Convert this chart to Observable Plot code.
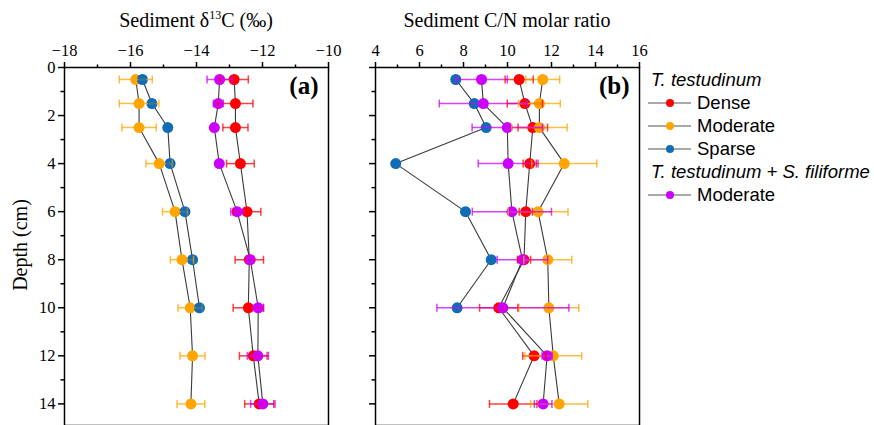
<!DOCTYPE html>
<html><head><meta charset="utf-8">
<script src="https://cdn.jsdelivr.net/npm/d3@7"></script>
<script src="https://cdn.jsdelivr.net/npm/@observablehq/plot@0.6"></script>
<style>
body{margin:0;background:#fff;}
#wrap{position:relative;width:874px;height:425px;overflow:hidden;font-family:"Liberation Serif","Times New Roman",serif;color:#000;}
.panel{position:absolute;top:0;}
.title{position:absolute;font-size:20px;transform:translateX(-50%);white-space:nowrap;top:8px;line-height:24px;}
.title sup{font-size:12px;vertical-align:8px;line-height:0;}
#ylab{position:absolute;left:20px;top:245px;font-size:20px;white-space:nowrap;transform:translate(-50%,-50%) rotate(-90deg);}
#legend{position:absolute;left:648px;top:68px;font-family:"Liberation Sans",Arial,sans-serif;font-size:18.5px;line-height:23px;}
#legend .row{display:flex;align-items:center;height:23px;white-space:nowrap;}
#legend .hdr{font-style:italic;margin-left:3px;}
#legend svg{margin-right:3px;}
</style></head>
<body>
<div id="wrap">
  <div class="title" style="left:196px">Sediment δ<sup>13</sup>C (‰)</div>
  <div class="title" style="left:507px">Sediment C/N molar ratio</div>
  <div id="ylab">Depth (cm)</div>
  <div id="legend"></div>
</div>
<script>
// ---- data ----
const depths = [0.5, 1.5, 2.5, 4, 6, 8, 10, 12, 14];
const seriesKeys = ["Dense", "Moderate", "Sparse", "Moderate (mixed)"];
const seriesColors = ["#FF0000", "#FFA500", "#106DB5", "#CC00FF"];

// Sediment d13C (per mil)
const denseD13C    = [-12.86, -12.82, -12.82, -12.67, -12.47, -12.40, -12.43, -12.28, -12.10];
const denseD13CErr = [0.43, 0.53, 0.38, 0.42, 0.42, 0.43, 0.46, 0.42, 0.44];
const modD13C      = [-15.84, -15.74, -15.74, -15.13, -14.65, -14.44, -14.19, -14.12, -14.17];
const modD13CErr   = [0.50, 0.60, 0.52, 0.40, 0.38, 0.35, 0.37, 0.38, 0.42];
const sparseD13C   = [-15.64, -15.35, -14.87, -14.80, -14.35, -14.12, -13.91, null, null];
const sparseD13CErr= [0.10, 0.10, 0, 0.10, 0.10, 0.10, 0.10, null, null];
const mixD13C      = [-13.30, -13.34, -13.46, -13.31, -12.77, -12.37, -12.13, -12.14, -11.99];
const mixD13CErr   = [0.38, 0.15, 0, 0, 0.19, 0.10, 0.16, 0.32, 0.37];

// Sediment C/N molar ratio
const denseCN      = [10.53, 10.79, 11.15, 11.01, 10.83, 10.75, 9.60, 11.21, 10.26];
const denseCNErr   = [0.64, 0.80, 0.67, 0.30, 0.30, 0.30, 0.87, 0.52, 1.08];
const modCN        = [11.60, 11.45, 11.45, 12.58, 11.39, 11.83, 11.88, 12.08, 12.35];
const modCNErr     = [0.77, 0.95, 1.26, 1.48, 1.36, 1.09, 1.36, 1.29, 1.30];
const sparseCN     = [7.65, 8.49, 9.03, 4.92, 8.09, 9.26, 7.71, null, null];
const sparseCNErr  = [0, 0, 0, 0, 0, 0, 0, null, null];
const mixCN        = [8.82, 8.90, 9.99, 10.03, 10.20, 10.68, 9.79, 11.80, 11.62];
const mixCNErr     = [1.17, 2.00, 1.60, 1.36, 1.80, 1.15, 3.00, 0.23, 0.40];

// tick values
const d13cTicks = [-18, -16, -14, -12, -10];
const d13cMinor = [-17, -15, -13, -11];
const cnTicks = [4, 6, 8, 10, 12, 14, 16];
const cnMinor = [5, 7, 9, 11, 13, 15];
const depthTicks = [0, 2, 4, 6, 8, 10, 12, 14];
const depthMinor = [1, 3, 5, 7, 9, 11, 13];

// ---- build rows ----
function rows(vals) {
  const out = [];
  vals.forEach(([key, v, e]) => {
    depths.forEach((d, i) => {
      if (v[i] != null) out.push({series: key, depth: d, v: v[i], e: e[i] || 0});
    });
  });
  return out;
}
const d13cRows = rows([["Dense", denseD13C, denseD13CErr], ["Moderate", modD13C, modD13CErr],
  ["Sparse", sparseD13C, sparseD13CErr], ["Moderate (mixed)", mixD13C, mixD13CErr]]);
const cnRows = rows([["Dense", denseCN, denseCNErr], ["Moderate", modCN, modCNErr],
  ["Sparse", sparseCN, sparseCNErr], ["Moderate (mixed)", mixCN, mixCNErr]]);

const capSymbol = {draw(ctx, size) { const r = Math.sqrt(size / Math.PI); ctx.moveTo(0, -r); ctx.lineTo(0, r); }};

function panel(data, xDomain, major, minor, width, mL, mR, showYLabels, tag) {
  const bars = data.filter(d => d.e > 0);
  return Plot.plot({
    width, height: 425,
    marginLeft: mL, marginRight: mR, marginTop: 67, marginBottom: 0,
    style: {fontFamily: "Liberation Serif, Times New Roman, serif", fontSize: "16.5px", color: "#000", background: "transparent", overflow: "visible"},
    x: {domain: xDomain},
    y: {domain: [0, 14.9], reverse: true},
    color: {domain: seriesKeys, range: seriesColors},
    marks: [
      Plot.axisX({anchor: "top", ticks: major, tickSize: 6, tickPadding: 6, strokeWidth: 1.5, fontSize: 16.5, label: null}),
      Plot.axisX({anchor: "top", ticks: minor, tickSize: 3.5, tickFormat: () => "", strokeWidth: 1.5, label: null}),
      Plot.axisY({anchor: "left", ticks: depthTicks, tickSize: 6, tickPadding: 3, strokeWidth: 1.5, fontSize: 16.5, label: null,
        tickFormat: showYLabels ? (d => String(d)) : (() => "")}),
      Plot.axisY({anchor: "left", ticks: depthMinor, tickSize: 3.5, tickFormat: () => "", strokeWidth: 1.5, label: null}),
      Plot.line(data, {x: "v", y: "depth", z: "series", stroke: "#3a3a3a", strokeWidth: 1.1}),
      Plot.dot(data, {x: "v", y: "depth", fill: "series", r: 5.5, stroke: "none"}),
      Plot.link(bars, {x1: d => d.v - d.e, x2: d => d.v + d.e, y1: "depth", y2: "depth", stroke: "series", strokeOpacity: 0.75, strokeWidth: 1.5}),
      Plot.dot(bars, {x: d => d.v - d.e, y: "depth", symbol: capSymbol, r: 4, stroke: "series", fill: "none", strokeOpacity: 0.75, strokeWidth: 1.5}),
      Plot.dot(bars, {x: d => d.v + d.e, y: "depth", symbol: capSymbol, r: 4, stroke: "series", fill: "none", strokeOpacity: 0.75, strokeWidth: 1.5}),
      Plot.text([tag], {frameAnchor: "top-right", dx: -10, dy: 9, text: d => d, fontSize: 25, fontWeight: "bold", textAnchor: "end", lineAnchor: "top"}),
      Plot.frame({stroke: "#000", strokeWidth: 1.5})
    ]
  });
}

const wrap = document.getElementById("wrap");
const a = panel(d13cRows, [-18, -10], d13cTicks, d13cMinor, 340, 64, 12, true, "(a)");
a.classList.add("panel"); a.style.left = "0px";
wrap.appendChild(a);
const b = panel(cnRows, [4, 16], cnTicks, cnMinor, 310, 35, 11, false, "(b)");
b.classList.add("panel"); b.style.left = "340px";
wrap.appendChild(b);

// ---- legend ----
const legendItems = [
  {hdr: "T. testudinum"},
  {label: "Dense", color: seriesColors[0]},
  {label: "Moderate", color: seriesColors[1]},
  {label: "Sparse", color: seriesColors[2]},
  {hdr: "T. testudinum + S. filiforme"},
  {label: "Moderate", color: seriesColors[3]}
];
const leg = document.getElementById("legend");
legendItems.forEach(it => {
  const row = document.createElement("div");
  row.className = "row";
  if (it.hdr) {
    row.innerHTML = `<span class="hdr">${it.hdr}</span>`;
  } else {
    row.innerHTML = `<svg width="46" height="20"><line x1="0" x2="43" y1="10" y2="10" stroke="#555" stroke-width="1.2"/><circle cx="22" cy="10" r="4" fill="${it.color}"/></svg><span>${it.label}</span>`;
  }
  leg.appendChild(row);
});
</script>
</body></html>
